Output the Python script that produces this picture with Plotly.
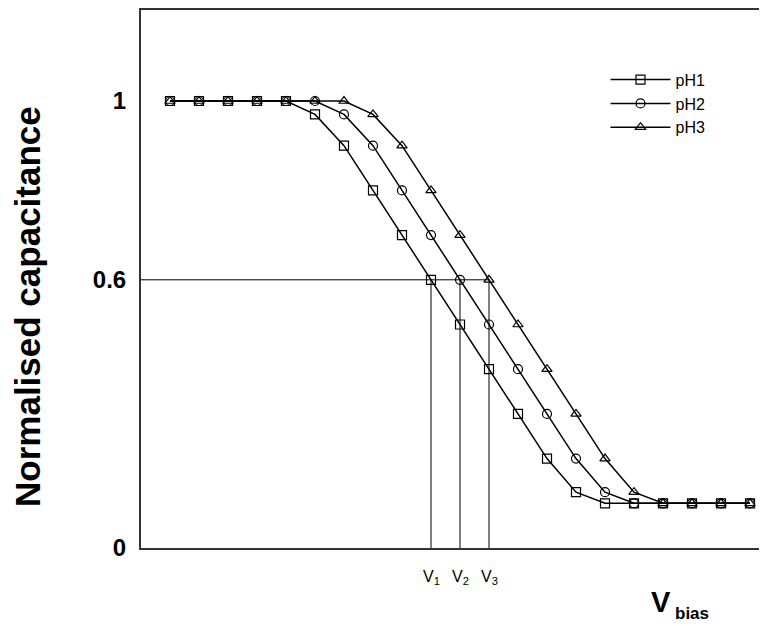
import plotly.graph_objects as go

# ---- data ----
bias_steps = list(range(21))
ph1 = [1, 1, 1, 1, 1, 0.97, 0.90, 0.80, 0.70, 0.60, 0.50, 0.40, 0.30, 0.20, 0.125,
       0.10, 0.10, 0.10, 0.10, 0.10, 0.10]
ph2 = [1, 1, 1, 1, 1, 1, 0.97, 0.90, 0.80, 0.70, 0.60, 0.50, 0.40, 0.30, 0.20, 0.125,
       0.10, 0.10, 0.10, 0.10, 0.10]
ph3 = [1, 1, 1, 1, 1, 1, 1, 0.97, 0.90, 0.80, 0.70, 0.60, 0.50, 0.40, 0.30, 0.20, 0.125,
       0.10, 0.10, 0.10, 0.10]
series_names = ["pH1", "pH2", "pH3"]
series_symbols = ["square-open", "circle-open", "triangle-up-open"]
ref_level = 0.6
ytick_vals = [0, 0.6, 1]
ytick_labels = ["0", "0.6", "1"]
v_labels = ["V<sub>1</sub>", "V<sub>2</sub>", "V<sub>3</sub>"]

FONT = "Arial, Liberation Sans, sans-serif"

fig = go.Figure()
for name, vals, sym in zip(series_names, [ph1, ph2, ph3], series_symbols):
    fig.add_trace(go.Scatter(
        x=bias_steps, y=vals, name=name, mode="lines+markers",
        line=dict(color="black", width=1.5),
        marker=dict(symbol=sym, size=9, color="black", line=dict(width=1.2, color="black")),
    ))

# reference lines at 0.6 level
crossings = [bias_steps[v.index(ref_level)] for v in (ph1, ph2, ph3)]
fig.add_shape(type="line", xref="x", yref="y", x0=-1, x1=max(crossings), y0=ref_level, y1=ref_level,
              line=dict(color="black", width=1))
for cx, lab in zip(crossings, v_labels):
    fig.add_shape(type="line", xref="x", yref="y", x0=cx, x1=cx, y0=0, y1=ref_level,
                  line=dict(color="black", width=1))
    fig.add_annotation(x=cx, y=0, xref="x", yref="y", text=lab, showarrow=False,
                       yanchor="top", yshift=-18, font=dict(family=FONT, size=16, color="black"))

# axis titles as annotations
fig.add_annotation(x=-0.1805, y=0.448, xref="paper", yref="paper", text="<b>Normalised capacitance</b>",
                   textangle=-90, showarrow=False, xanchor="center", yanchor="middle",
                   font=dict(family=FONT, size=35, color="black"))
fig.add_annotation(x=0.850, y=-0.100, xref="paper", yref="paper", text="<b>V</b>", showarrow=False,
                   xanchor="right", yanchor="middle", font=dict(family=FONT, size=29, color="black"))
fig.add_annotation(x=0.850, y=-0.122, xref="paper", yref="paper", text="<b>bias</b>", showarrow=False,
                   xanchor="left", yanchor="middle", font=dict(family=FONT, size=17, color="black"))

fig.update_layout(
    width=759, height=618,
    margin=dict(l=133, r=0, t=2, b=78),
    paper_bgcolor="white", plot_bgcolor="white",
    showlegend=True,
    legend=dict(x=0.742, y=0.902, xanchor="left", yanchor="top", bgcolor="rgba(0,0,0,0)",
                font=dict(family=FONT, size=16, color="black"), itemwidth=60,
                tracegroupgap=0, traceorder="normal"),
    xaxis=dict(range=[-1, 20.586], showgrid=False, zeroline=False, showticklabels=False,
               ticks="", showline=True, linecolor="#333", linewidth=2, mirror=True),
    yaxis=dict(range=[0, 1.2036], showgrid=False, zeroline=False, ticks="",
               tickvals=ytick_vals, ticktext=["<b>%s</b>" % t for t in ytick_labels],
               tickfont=dict(family=FONT, size=24, color="black"), ticklabelstandoff=8,
               showline=True, linecolor="#333", linewidth=2, mirror=False),
    font=dict(family=FONT, color="black"),
)

fig.write_html("out.html")
